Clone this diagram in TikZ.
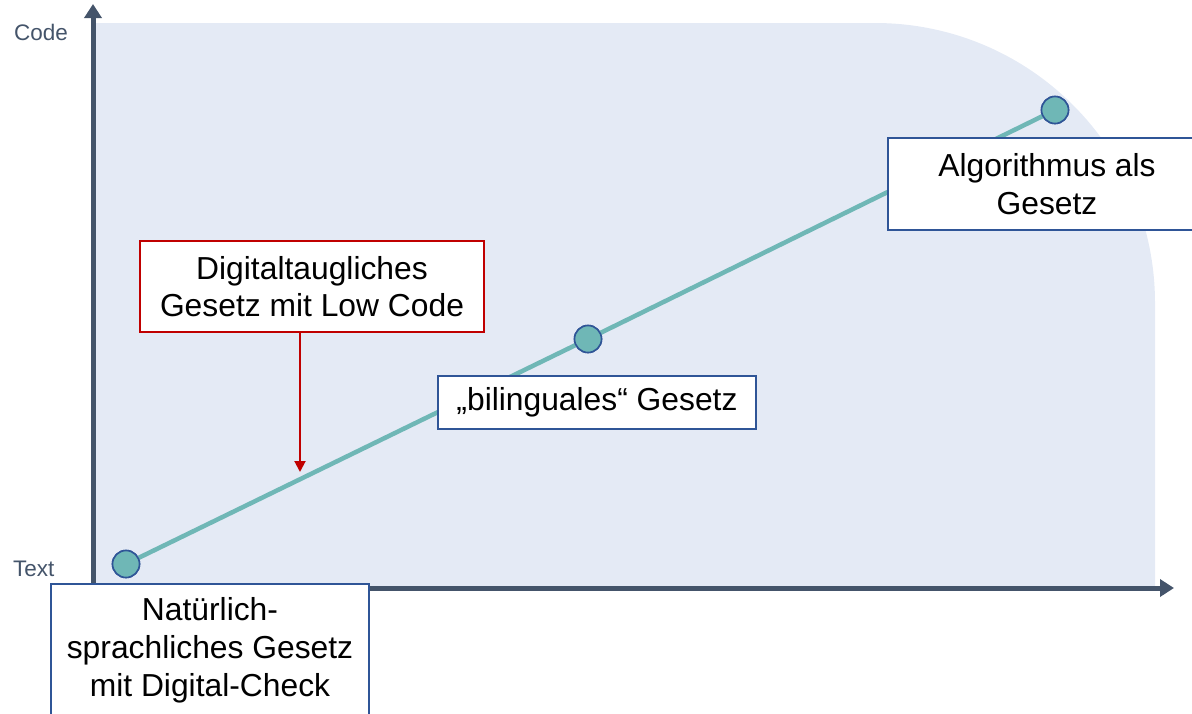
\documentclass[tikz,border=0pt]{standalone}
\usepackage{fontspec}
\setmainfont{Liberation Sans}
\usetikzlibrary{arrows.meta}
\definecolor{areafill}{HTML}{E4EAF5}
\definecolor{axiscol}{HTML}{44546A}
\definecolor{tealcol}{HTML}{6FB7B6}
\definecolor{bluecol}{HTML}{2F5597}
\definecolor{redcol}{HTML}{C00000}
\tikzset{
  axisline/.style={draw=axiscol, line width=5pt, -{Triangle[length=14pt,width=17pt]}},
  axislabel/.style={text=axiscol, font=\fontsize{22.5}{27}\selectfont, inner sep=0pt},
  dot/.style={circle, fill=tealcol, draw=bluecol, line width=1.6pt, minimum size=27pt, inner sep=0pt},
  trend/.style={draw=tealcol, line width=4.5pt},
  labelbox/.style={draw=bluecol, fill=white, line width=1.6pt, align=center, inner sep=0pt,
    font=\fontsize{31.8}{38}\selectfont},
  redbox/.style={draw=redcol, fill=white, line width=2pt, align=center, inner sep=0pt,
    font=\fontsize{31.8}{37.5}\selectfont},
  redarrow/.style={draw=redcol, line width=2pt, -{Triangle[length=11pt,width=11pt]}}
}
\begin{document}
\begin{tikzpicture}[x=1pt,y=-1pt]
\useasboundingbox (0,0) rectangle (1192,713);
\clip (0,0) rectangle (1192,713);
% background area with rounded top-right corner
\fill[areafill] (96,23) -- (875,23) arc[start angle=-90, end angle=0, radius=280] -- (1155,586) -- (96,586) -- cycle;
% axes
\coordinate (origin) at (93,590);
\coordinate (ytip) at (93,4);
\coordinate (xorigin) at (90,588);
\coordinate (xtip) at (1174,588);
\draw[axisline] (origin) -- (ytip);
\draw[axisline] (xorigin) -- (xtip);
\node[axislabel, anchor=base west] (codelbl) at (14,40) {Code};
\node[axislabel, anchor=base west] (textlbl) at (13,576) {Text};
% trend line and dots
\node[dot] (d1) at (126,564) {};
\node[dot] (d2) at (588,339) {};
\node[dot] (d3) at (1055,110) {};
\draw[trend] (d1.center) -- (d2.center) -- (d3.center);
\node[dot] at (d1) {};
\node[dot] at (d2) {};
\node[dot] at (d3) {};
% red box and arrow
\node[redbox, minimum width=344pt, minimum height=91pt] (red) at (312,286.5) {Digitaltaugliches\\Gesetz mit Low Code};
\coordinate (redtip) at (300,472);
\draw[redarrow] (red.south -| redtip) -- (redtip);
% label boxes
\node[labelbox, minimum width=318pt, minimum height=53pt] (bil) at (597,402.5) {„bilinguales“ Gesetz};
\node[labelbox, minimum width=318pt, minimum height=92pt] (algo) at (1047,184) {Algorithmus als\\Gesetz};
\node[labelbox, minimum width=318pt, minimum height=132pt] (nat) at (210,650) {Natürlich-\\sprachliches Gesetz\\mit Digital-Check};
\end{tikzpicture}
\end{document}
